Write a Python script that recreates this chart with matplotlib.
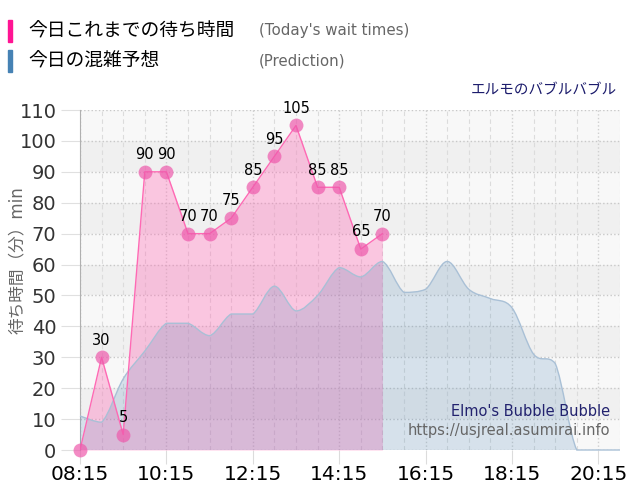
import numpy as np
import matplotlib
matplotlib.use("Agg")
import matplotlib.pyplot as plt
from matplotlib.path import Path
from matplotlib.patches import PathPatch, Rectangle

plt.rcParams['font.family'] = ['DejaVu Sans', 'Noto Sans CJK JP']

# Data (times in hours)
wait_times = [8.25, 8.75, 9.25, 9.75, 10.25, 10.75, 11.25, 11.75, 12.25,
              12.75, 13.25, 13.75, 14.25, 14.75, 15.25]
wait_values = [0, 30, 5, 90, 90, 70, 70, 75, 85, 95, 105, 85, 85, 65, 70]

pred_times = [8.25 + 0.5 * i for i in range(26)]
pred_values = [11, 9, 23, 32, 41, 41, 37, 44, 44, 53, 45, 50, 59, 56, 61,
               51, 52, 61, 52, 49, 46, 31, 28, 0, 0, 0]

x_ticks = [8.25, 10.25, 12.25, 14.25, 16.25, 18.25, 20.25]
x_labels = ['08:15', '10:15', '12:15', '14:15', '16:15', '18:15', '20:15']
y_ticks = list(range(0, 111, 10))

PINK = '#ff69b4'
BLUE = '#4682b4'


def spline_verts(x, y):
    # bezier through the points, control points kept inside each segment's y range
    pts = np.column_stack([x, y]).astype(float)
    n = len(pts)
    verts = [pts[0]]
    codes = [Path.MOVETO]
    for i in range(n - 1):
        p0 = pts[max(i - 1, 0)]
        p1 = pts[i]
        p2 = pts[i + 1]
        p3 = pts[min(i + 2, n - 1)]
        c1 = p1 + (p2 - p0) / 6.0
        c2 = p2 - (p3 - p1) / 6.0
        lo, hi = min(p1[1], p2[1]), max(p1[1], p2[1])
        c1[1] = np.clip(c1[1], lo, hi)
        c2[1] = np.clip(c2[1], lo, hi)
        verts += [c1, c2, p2]
        codes += [Path.CURVE4] * 3
    return verts, codes


fig = plt.figure(figsize=(6.4, 5.0), dpi=100)
ax = fig.add_axes([80 / 640, 50 / 500, 540 / 640, 340 / 500])
ax.set_facecolor('#f8f8f8')
for lo in range(10, 110, 20):
    ax.axhspan(lo, lo + 10, color='#f0f0f0', zorder=0, lw=0)

ax.set_xlim(8.25, 20.75)
ax.set_ylim(0, 110)

# grid
ax.set_xticks(x_ticks)
ax.set_xticklabels(x_labels)
ax.set_xticks(np.arange(8.25, 20.76, 0.5), minor=True)
ax.set_yticks(y_ticks)
ax.grid(axis='y', which='major', color='#c8c8c8', linestyle=':', lw=1, zorder=1)
ax.grid(axis='x', which='major', color='#d0d0d0', linestyle=':', lw=1, zorder=1)
ax.grid(axis='x', which='minor', color='#dcdcdc', linestyle=(0, (4, 3)), lw=0.8, zorder=1)
ax.set_axisbelow(True)

for s in ['top', 'right', 'bottom']:
    ax.spines[s].set_visible(False)
ax.spines['left'].set_color('#b0b0b0')
ax.tick_params(axis='x', which='major', length=10, color='#dcdcdc', labelsize=14.5,
               labelcolor='black', pad=1)
ax.tick_params(axis='x', which='minor', length=0)
ax.tick_params(axis='y', length=14, color='#e0e0e0', labelsize=14, labelcolor='#333333', pad=3)

# today's wait times (fill under)
ax.fill_between(wait_times, wait_values, 0, color=PINK, alpha=0.35, lw=0, zorder=2)

# prediction spline area
v, c = spline_verts(pred_times, pred_values)
line_path = Path(v, c)
fv = v + [(pred_times[-1], 0), (pred_times[0], 0), (pred_times[0], 0)]
fc = c + [Path.LINETO, Path.LINETO, Path.CLOSEPOLY]
ax.add_patch(PathPatch(Path(fv, fc), facecolor=BLUE, alpha=0.19, lw=0, zorder=3))
ax.add_patch(PathPatch(line_path, facecolor='none', edgecolor='#a9c0d6', lw=1,
                       zorder=4, clip_on=False))

# wait line + markers
ax.plot(wait_times, wait_values, color=PINK, lw=1, zorder=5)
ax.plot(wait_times, wait_values, 'o', ms=10, color='#ee5aac', alpha=0.7,
        markeredgewidth=0, zorder=6, clip_on=False)
for t, val in zip(wait_times, wait_values):
    if val == 0:
        continue
    ax.annotate(str(val), (t, val), xytext=(0, 7), textcoords='offset points',
                ha='center', va='bottom', fontsize=10.5, color='black', zorder=7)

# legend
fig.patches.append(Rectangle((8 / 640, 1 - 42 / 500), 4 / 640, 22 / 500,
                             transform=fig.transFigure, color='#ff1493'))
fig.patches.append(Rectangle((8 / 640, 1 - 72 / 500), 4 / 640, 22 / 500,
                             transform=fig.transFigure, color=BLUE))
fig.text(28 / 640, 1 - 31 / 500, '今日これまでの待ち時間', fontsize=13.5,
         color='black', va='center', ha='left')
fig.text(28 / 640, 1 - 61 / 500, '今日の混雑予想', fontsize=13.5,
         color='black', va='center', ha='left')
fig.text(259 / 640, 1 - 31 / 500, "(Today's wait times)", fontsize=10.8,
         color='#666666', va='center', ha='left')
fig.text(259 / 640, 1 - 61 / 500, '(Prediction)', fontsize=10.8,
         color='#666666', va='center', ha='left')

# titles / watermark
fig.text(617 / 640, 1 - 90 / 500, 'エルモのバブルバブル', fontsize=10.5,
         color='#1c1c6c', va='center', ha='right')
fig.text(610 / 640, 1 - 411 / 500, "Elmo's Bubble Bubble", fontsize=10.5,
         color='#22226e', va='center', ha='right', zorder=10)
fig.text(610 / 640, 1 - 431 / 500, 'https://usjreal.asumirai.info', fontsize=10.5,
         color='#666666', va='center', ha='right', zorder=10)
fig.text(17 / 640, 1 - 260 / 500, '待ち時間（分）min', fontsize=12,
         color='#666666', va='center', ha='center', rotation=90)

fig.savefig('out.png', dpi=100)
